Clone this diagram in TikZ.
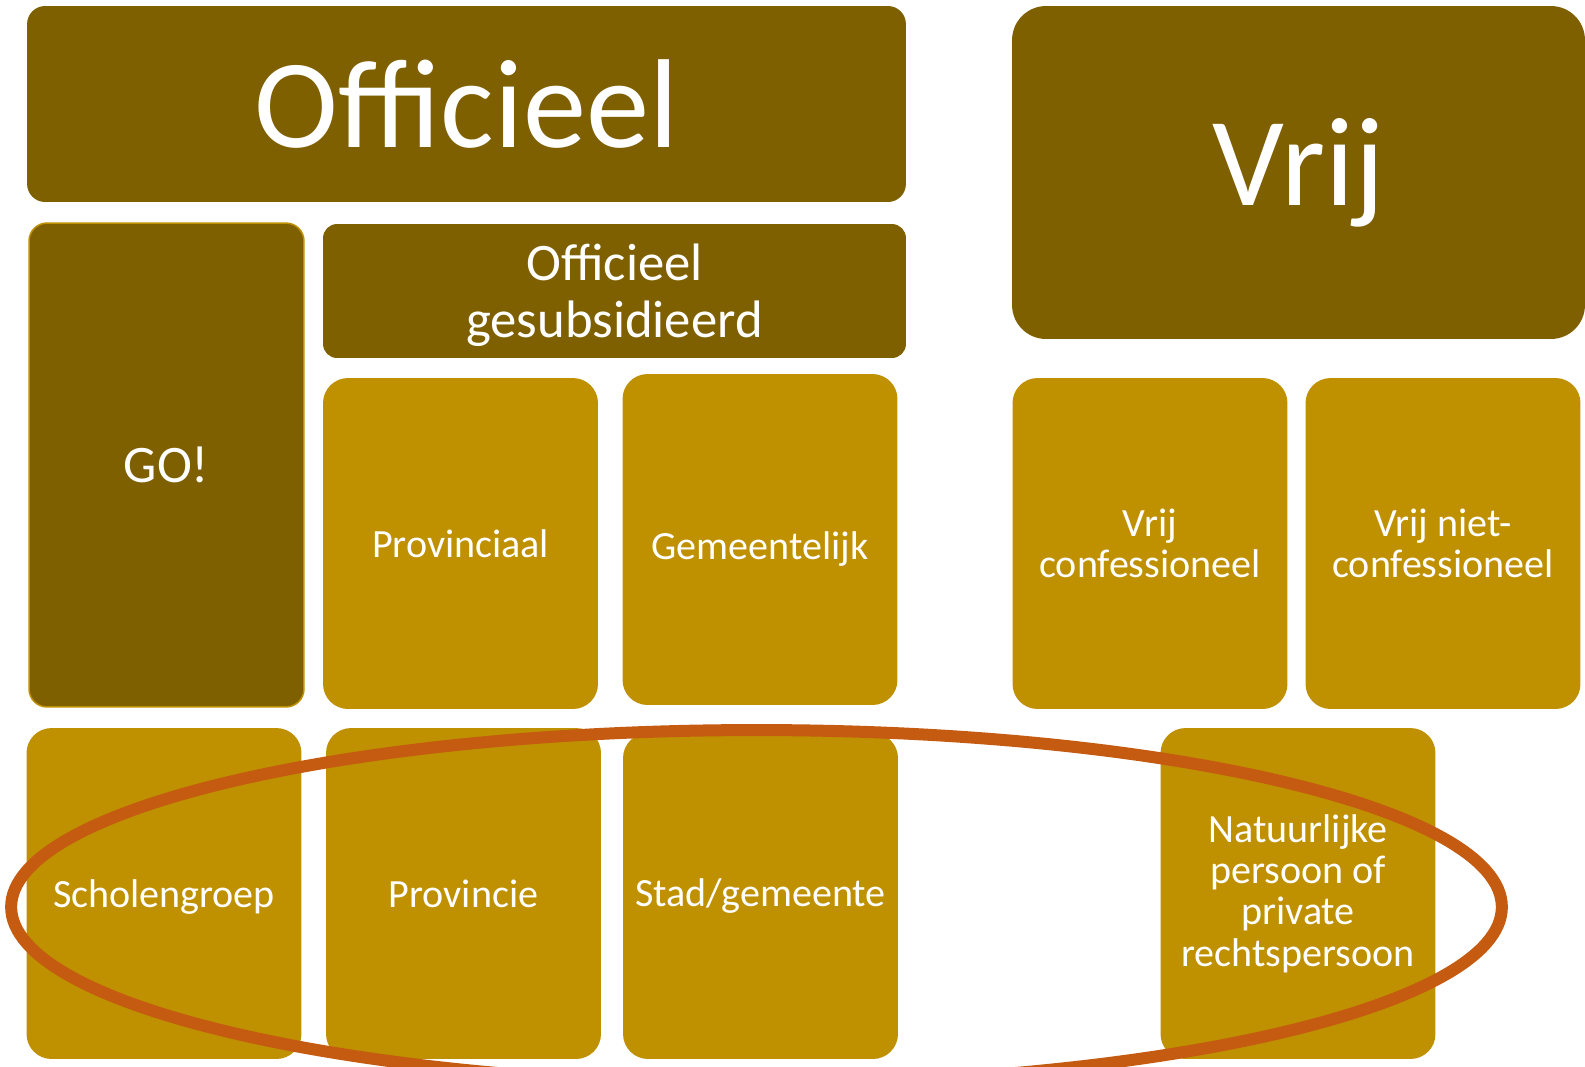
\documentclass[tikz,border=0pt]{standalone}
\usepackage{fontspec}
\setmainfont{Carlito}
\usetikzlibrary{positioning}
\definecolor{mbrown}{RGB}{127,96,0}
\definecolor{mgold}{RGB}{191,144,0}
\definecolor{morange}{RGB}{197,90,17}
\tikzset{darkbox/.style = {fill=mbrown, text=white, inner sep=0pt, align=center,
                           rounded corners=0.36cm}}
\tikzset{goldbox/.style = {fill=mgold, text=white, inner sep=0pt, align=center,
                           rounded corners=0.5cm, minimum width=5.5cm, minimum height=6.62cm,
                           font=\fontsize{22.8}{23.6}\selectfont}}
\tikzset{bigtext/.style = {font=\fontsize{72}{74}\selectfont}}

\begin{document}
\begin{tikzpicture}[x=0.02cm, y=-0.02cm]
    \useasboundingbox (0, 0) rectangle (1585, 1066);
    \clip (0, 0) rectangle (1585, 1066);
    % headers
    \node [darkbox, bigtext, minimum width=17.58cm, minimum height=3.92cm] (officieel) at (466.5, 104) {Officieel};
    \node [darkbox, bigtext, rounded corners=0.68cm, minimum width=11.46cm, minimum height=6.66cm] (vrij) at (1298.5, 172.5) {Vrij};
    \node [darkbox, draw=mgold, line width=0.03cm, minimum width=5.5cm, minimum height=9.68cm,
           font=\fontsize{30}{32}\selectfont] (go) at (166.5, 465) {GO!};
    \node [darkbox, rounded corners=0.28cm, minimum width=11.66cm, minimum height=2.68cm, text depth=0pt,
           font=\fontsize{30}{32.5}\selectfont] (offgesub) at (614.5, 291) {Officieel\\gesubsidieerd};
    % second row
    \node [goldbox] (provinciaal) at (460.5, 543.5) {Provinciaal};
    \node [goldbox, text depth=0pt, text height=23pt] (gemeentelijk) at (760, 539.5) {Gemeentelijk};
    \node [goldbox] (vrijconf) at (1150, 543.5) {Vrij\\confessioneel};
    \node [goldbox] (vrijnietconf) at (1443, 543.5) {Vrij niet-\\confessioneel};
    % third row
    \node [goldbox, text depth=0pt] (scholengroep) at (164, 893.5) {Scholengroep};
    \node [goldbox] (provincie) at (463.5, 893.5) {Provincie};
    \node [goldbox, minimum height=6.52cm] (stad) at (760.5, 896) {Stad/gemeente};
    \node [goldbox] (persoon) at (1298, 893.5) {Natuurlijke\\persoon of\\private\\rechtspersoon};
    % highlight
    \draw [morange, line width=0.24cm] (756.5, 907) ellipse [x radius=14.91cm, y radius=3.54cm];
\end{tikzpicture}
\end{document}
